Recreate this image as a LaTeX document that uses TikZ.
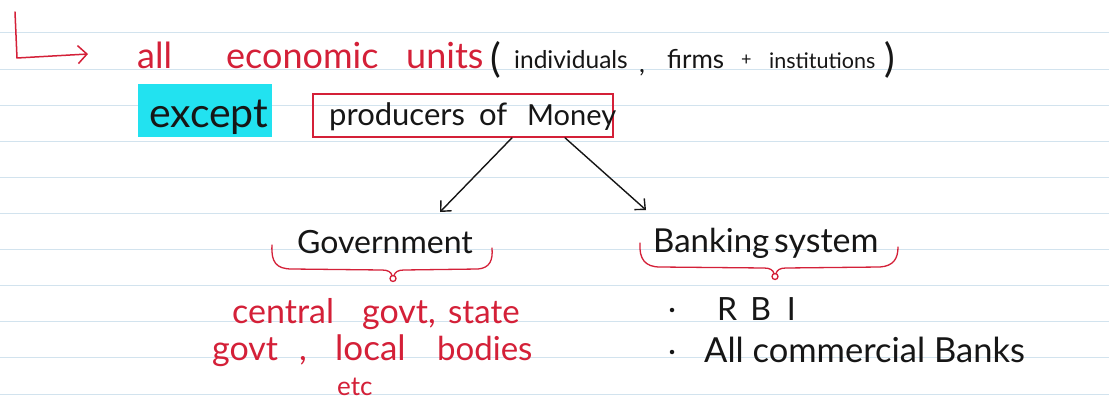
\documentclass[tikz,border=0pt]{standalone}
\usepackage{fontspec}
\setmainfont{Lato}
\usetikzlibrary{arrows.meta}

\definecolor{ink}{HTML}{161616}
\definecolor{redink}{HTML}{D42038}
\definecolor{ruleblue}{HTML}{D2E3EE}
\definecolor{marker}{HTML}{22E2F0}

\newcommand{\fs}[1]{\fontsize{#1}{#1}\selectfont}

\begin{document}
\begin{tikzpicture}[x=1pt,y=-1pt,
  txt/.style={inner sep=0pt, anchor=base west, text=ink},
  rtxt/.style={txt, text=redink},
  arr/.style={draw=ink, line width=1.4pt, line cap=round,
    -{Straight Barb[length=8pt,width=15pt,line width=1.4pt]}},
  redarr/.style={draw=redink, line width=1.5pt, line cap=round, line join=round,
    -{Straight Barb[length=9pt,width=18pt,line width=1.5pt]}},
  brace/.style={draw=redink, line width=1.3pt, line cap=round, line join=round},
  dotmark/.style={circle, fill=ink, inner sep=0pt, minimum size=4.5pt}]

% page and ruled lines
\useasboundingbox (0,0) rectangle (1109,417);
\fill[white] (0,0) rectangle (1109,417);
\foreach \k in {0,...,10}
  \draw[ruleblue, line width=1pt] (0,{33+36.1*\k}) -- (1109,{33+36.1*\k});

% red hook arrow
\coordinate (hooktop) at (15,12);
\coordinate (hookcorner) at (17,58);
\coordinate (hooktip) at (88,54);
\draw[redarr] (hooktop) -- (hookcorner) -- (hooktip);

% first line
\node[rtxt, font=\fs{36}] (all) at (137,69) {all};
\node[rtxt, font=\fs{36}] (econ) at (226,69) {economic};
\node[rtxt, font=\fs{36}] (units) at (406,69) {units};
\node[txt, font=\fs{40}] (lpar) at (490,73) {(};
\node[txt, font=\fs{24.5}] (indiv) at (514,69) {individuals};
\node[txt, font=\fs{26}] (comma1) at (639,73) {,};
\node[txt, font=\fs{26}] (firms) at (667,69) {firms};
\node[txt, font=\fs{18}] (plus) at (741,66) {+};
\node[txt, font=\fs{21.5}] (instit) at (769,69) {institutions};
\node[txt, font=\fs{40}] (rpar) at (884,73) {)};

% second line
\node[fill=marker, minimum width=134pt, minimum height=53pt, inner sep=0pt]
  (except) at (205,110.5) {};
\node[txt, font=\fs{41}] (excepttext) at (149,128) {except};
\node[draw=redink, line width=1.6pt, minimum width=300pt, minimum height=43pt,
  inner sep=0pt] (pm) at (463,115.5) {};
\node[txt, font=\fs{31}] (producers) at (329,126) {producers};
\node[txt, font=\fs{31}] (of) at (479,126) {of};
\node[txt, font=\fs{29}] (money) at (527,126) {Money};

% branches
\node[txt, font=\fs{32}] (gov) at (297,253) {Government};
\node[txt, font=\fs{33}] (banking) at (653,252) {Banking};
\node[txt, font=\fs{34}] (system) at (774,252) {system};
\coordinate (govin) at (440,212);
\coordinate (bankin) at (646,210);
\draw[arr] ([xshift=49pt]pm.south) -- (govin);
\draw[arr] ([xshift=102pt]pm.south) -- (bankin);

% braces
\draw[brace] (272,245) .. controls (271,262) and (276,269) .. (292,269)
  -- (382,270) .. controls (388,270) and (391,272) .. (392,275.5);
\draw[brace] (394,275.5) .. controls (395,272) and (398,270) .. (404,270)
  -- (478,269) .. controls (490,268) and (493,260) .. (492,248);
\draw[brace] (393,278.5) circle (3pt);

\draw[brace] (640,243) .. controls (639,259) and (645,267) .. (660,267)
  -- (764,268) .. controls (770,268) and (773,270) .. (774,273.5);
\draw[brace] (776,273.5) .. controls (777,270) and (780,268) .. (786,268)
  -- (880,267) .. controls (894,266) and (898,258) .. (898,247);
\draw[brace] (775,276.5) circle (3pt);

% government details
\node[rtxt, font=\fs{34}] (central) at (232,323) {central};
\node[rtxt, font=\fs{34}] (govt1) at (362,323) {govt,};
\node[rtxt, font=\fs{33}] (state) at (448,323) {state};
\node[rtxt, font=\fs{34}] (govt2) at (212,360) {govt};
\node[rtxt, font=\fs{34}] (comma2) at (299,360) {,};
\node[rtxt, font=\fs{35}] (local) at (335,360) {local};
\node[rtxt, font=\fs{33}] (bodies) at (437,360) {bodies};
\node[rtxt, font=\fs{26}] (etc) at (337,395) {etc};

% banking details
\node[dotmark] (b1) at (672,310) {};
\node[txt, font=\fs{32}] (rbi) at (717,320) {R\hspace{13pt}B\hspace{16pt}I};
\node[dotmark] (b2) at (672,352) {};
\node[txt, font=\fs{34.5}] (allbanks) at (704,362) {All commercial Banks};
\end{tikzpicture}
\end{document}
